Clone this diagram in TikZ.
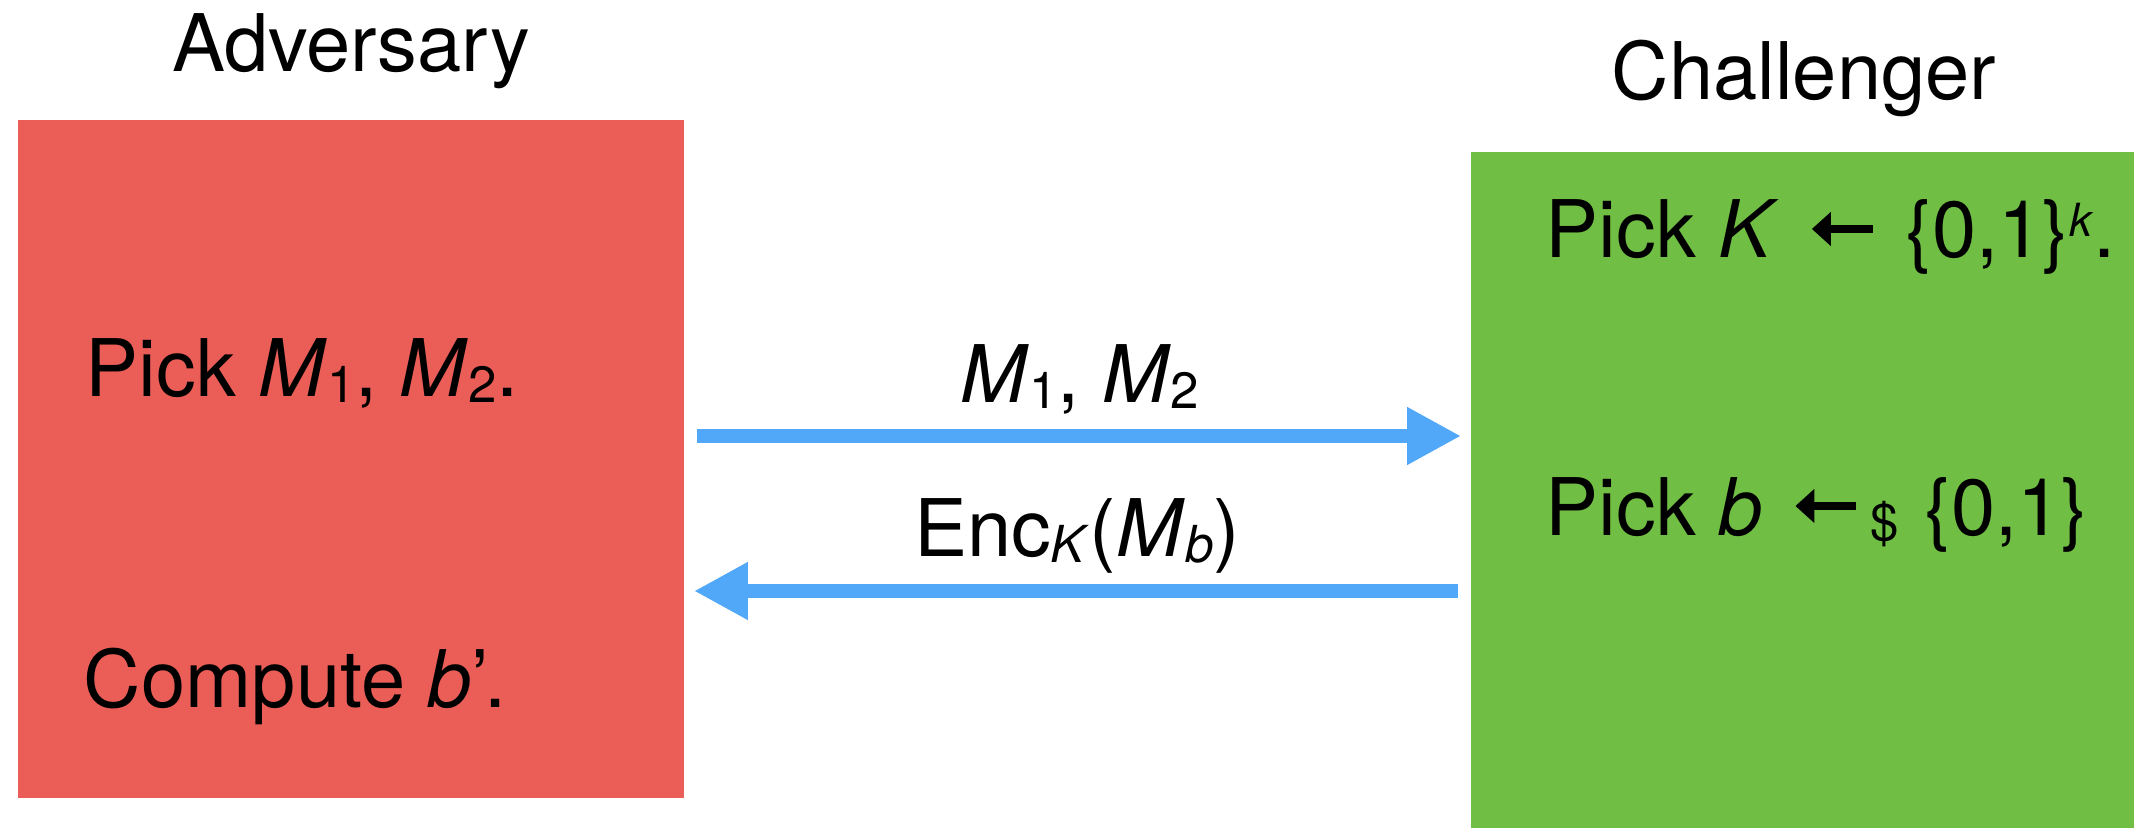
\documentclass[tikz,border=0pt]{standalone}
\usepackage{fontspec}
\setmainfont{TeX Gyre Heros}
\usetikzlibrary{arrows.meta}

\definecolor{advred}{HTML}{EB5E57}
\definecolor{chlgreen}{HTML}{70BE44}
\definecolor{msgblue}{HTML}{52A8F8}

% small lowered / raised indices in text
\newcommand\lowsub[1]{\raisebox{-1.7pt}{\fontsize{14.5}{15}\selectfont #1}}
\newcommand\highsup[1]{\raisebox{6pt}{\fontsize{13}{14}\selectfont #1}}
% assignment arrow with a filled head
\newcommand\getsarrow{\tikz[baseline=0pt]\draw[line width=0.075cm,-{Triangle[length=0.19cm,width=0.33cm]}] (0.61cm,0.29cm) -- (0,0.29cm);}

\tikzset{
  txt/.style={font=\fontsize{22.6}{27}\selectfont, inner sep=0pt},
  partybox/.style={draw=none, inner sep=0pt, minimum width=#1},
  msg/.style={draw=msgblue, line width=0.14cm, -{Triangle[length=0.54cm,width=0.54cm]}},
}

\begin{document}
\begin{tikzpicture}[x=0.01cm, y=-0.01cm]
\useasboundingbox (0,0) rectangle (2134,828);

% the two parties
\node[partybox=6.66cm, minimum height=6.78cm, fill=advred] (adv) at (351,459) {};
\node[partybox=6.63cm, minimum height=6.76cm, fill=chlgreen] (chl) at (1802.5,490) {};

\node[txt, anchor=base] (advtitle) at (351,72) {Adversary};
\node[txt, anchor=base] (chltitle) at (1804,100) {Challenger};

% adversary steps
\node[txt, anchor=base west] (pickm) at (85,397) {Pick \textit{M}\lowsub{1}, \textit{M}\lowsub{2}.};
\node[txt, anchor=base west] (compb) at (83,707) {Compute \textit{b}’.};

% challenger steps
\node[txt, anchor=base west] (pickk) at (1545,258) {Pick \textit{K}\hspace{2pt} \getsarrow\hspace{2pt} \{0,1\}\highsup{\textit{k}}.};
\node[txt, anchor=base west] (pickb) at (1545,535) {Pick \textit{b}\hspace{2pt} \getsarrow\hspace{3pt}\lowsub{\$}\hspace{1pt} \{0,1\}};

% messages
\coordinate (lane1) at (0,436);
\coordinate (lane2) at (0,591);
\draw[msg, shorten <=0.12cm, shorten >=0.09cm] (adv.east |- lane1) -- (chl.west |- lane1);
\draw[msg, shorten <=0.12cm, shorten >=0.09cm] (chl.west |- lane2) -- (adv.east |- lane2);

\node[txt, anchor=base] (lbl1) at (1080,403) {\textit{M}\lowsub{1}, \textit{M}\lowsub{2}};
\node[txt, anchor=base] (lbl2) at (1077,557) {Enc\lowsub{\textit{K}}(\textit{M}\lowsub{\textit{b}})};
\end{tikzpicture}
\end{document}
